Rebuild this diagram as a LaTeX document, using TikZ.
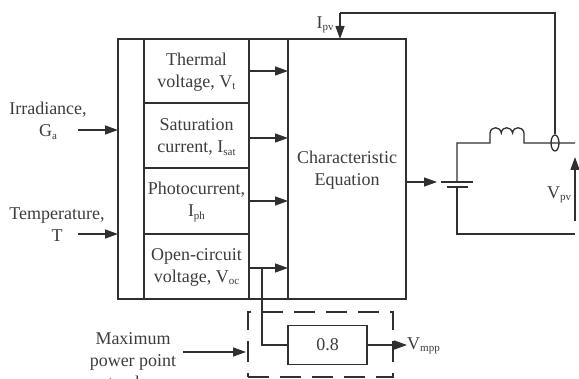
\documentclass[tikz,border=0pt]{standalone}
\usepackage{fontspec}
\setmainfont{Liberation Serif}
\usetikzlibrary{arrows.meta,shapes.geometric}
\newcommand{\lowsub}[1]{\raisebox{-0.3ex}{\fontsize{11}{11}\selectfont #1}}
\definecolor{ink}{HTML}{303030}
\definecolor{txt}{HTML}{3C3C3C}
\tikzset{
  wire/.style={draw=ink,line width=1.3pt},
  flow/.style={wire,-{Triangle[length=13pt,width=9pt]}},
  blockbox/.style={draw=ink,line width=1.3pt,rectangle,inner sep=0pt,outer sep=0pt},
  lbl/.style={inner sep=0pt,align=center,text=txt,font=\fontsize{18}{22}\selectfont},
}
\begin{document}
\begin{tikzpicture}[x=1pt,y=-1pt]
\useasboundingbox (0,0) rectangle (579,379);
\clip (0,0) rectangle (579,379);
% blocks
\node[blockbox,minimum width=288pt,minimum height=260pt] (outer) at (262,169) {};
\node[blockbox,minimum width=105pt,minimum height=64pt] (thermal) at (196.5,71) {};
\node[blockbox,minimum width=105pt,minimum height=65pt] (sat) at (196.5,135.5) {};
\node[blockbox,minimum width=105pt,minimum height=66pt] (photo) at (196.5,201) {};
\node[blockbox,minimum width=105pt,minimum height=65pt] (oc) at (196.5,266.5) {};
\node[blockbox,minimum width=118pt,minimum height=260pt] (char) at (347,169) {};
\node[blockbox,minimum width=79pt,minimum height=39pt] (gain) at (327.5,345) {};
\node[draw=ink,line width=1.2pt,dash pattern=on 21pt off 11pt,rectangle,inner sep=0pt,minimum width=145pt,minimum height=65pt] (mppbox) at (320.5,344.5) {};
% block texts
\node[lbl] (thermalT) at (196.5,72) {Thermal\\voltage, V\lowsub{t}};
\node[lbl] (satT) at (196.5,137) {Saturation\\current, I\lowsub{sat}};
\node[lbl] (photoT) at (196.5,202) {Photocurrent,\\I\lowsub{ph}};
\node[lbl] (ocT) at (196.5,267.5) {Open-circuit\\voltage, V\lowsub{oc}};
\node[lbl] (charT) at (347,170.5) {Characteristic\\Equation};
\node[lbl] (gainT) at (327.5,345) {0.8};
% labels
\node[lbl] (irr) at (48,121) {Irradiance,\\G\lowsub{a}};
\node[lbl] (temp) at (57,224.5) {Temperature,\\T};
\node[lbl] (mppt) at (133,361) {Maximum\\power point\\tracker};
\node[lbl] (ipv) at (325,25) {I\lowsub{pv}};
\node[lbl] (vpv) at (559,195) {V\lowsub{pv}};
\node[lbl,anchor=west] (vmpp) at (407,346) {V\lowsub{mpp}};
% inputs
\coordinate (irrS) at (78,130);
\coordinate (tempS) at (78,234);
\coordinate (mppS) at (183,352);
\draw[flow] (irrS) -- (irrS -| outer.west);
\draw[flow] (tempS) -- (tempS -| outer.west);
\draw[flow] (mppS) -- (246,352);
% block to equation
\coordinate (a1) at (249,71);
\coordinate (a2) at (249,138);
\coordinate (a3) at (249,201);
\coordinate (a4) at (249,268);
\draw[flow] (a1) -- (a1 -| char.west);
\draw[flow] (a2) -- (a2 -| char.west);
\draw[flow] (a3) -- (a3 -| char.west);
\draw[flow] (a4) -- (a4 -| char.west);
% gain
\coordinate (tap) at (262,268);
\draw[wire] (tap) |- (gain.west);
\draw[flow] (gain.east) -- (vmpp.west |- gain.east);
% circuit
\coordinate (topL) at (457,143);
\coordinate (indL) at (490,143);
\coordinate (indR) at (524,143);
\coordinate (endT) at (575,143);
\coordinate (sense) at (555,143);
\coordinate (plateA) at (457,182);
\coordinate (plateB) at (457,187);
\coordinate (botL) at (457,234);
\coordinate (endB) at (575,234);
\node[draw=ink,line width=1.3pt,ellipse,inner sep=0pt,minimum width=8pt,minimum height=16pt] (oval) at (sense) {};
\draw[wire] (plateA) -- (topL) -- (indL) -- (490,133)
  .. controls (491,126) and (500,126) .. (501.3,133)
  .. controls (502,126) and (511,126) .. (512.6,133)
  .. controls (513,126) and (523,126) .. (524,133) -- (indR) -- (endT);
\draw[wire] (441,182) -- (473,182);
\draw[wire] (447,187) -- (468,187);
\draw[wire] (plateB) -- (botL) -- (endB);
\coordinate (battIn) at (437,182);
\draw[flow] (char.east |- battIn) -- (battIn);
\coordinate (vpvS) at (575,221);
\draw[flow] (vpvS) -- (575,157);
% feedback
\coordinate (fbTop) at (340,13);
\draw[wire] (oval.north) -- (555,13) -- (fbTop);
\draw[flow] (fbTop) -- (fbTop |- char.north);
\end{tikzpicture}
\end{document}
